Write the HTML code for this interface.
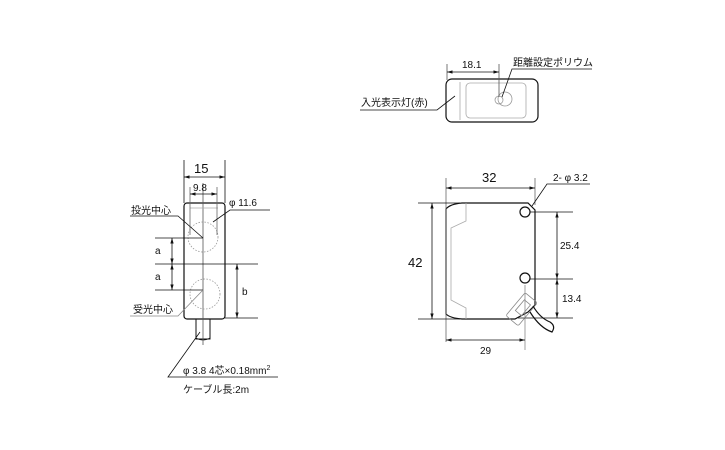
<!DOCTYPE html>
<html><head><meta charset="utf-8"><style>
html,body{margin:0;padding:0;background:#fff}
svg{display:block}
text{font-family:"Liberation Sans","Noto Sans CJK JP",sans-serif;fill:#111}
</style></head><body>
<svg width="725" height="450" viewBox="0 0 725 450" xmlns="http://www.w3.org/2000/svg">
<defs>
<marker id="a" viewBox="0 0 10 10" refX="10" refY="5" markerWidth="7" markerHeight="7" orient="auto-start-reverse"><path d="M0,2 L10,5 L0,8 z" fill="#111"/></marker>
</defs>
<g stroke="#111" stroke-width="0.8" fill="none">
<!-- top view -->
<rect x="446" y="79" width="92" height="43" rx="6" stroke-width="1.2"/>
<line x1="460" y1="82" x2="460" y2="120" stroke="#aaa"/>
<rect x="466" y="83" width="60" height="35" rx="4" stroke="#aaa"/>
<circle cx="499" cy="100" r="4" stroke="#999"/>
<circle cx="505" cy="99" r="7" stroke="#999"/>
<line x1="447" y1="64" x2="447" y2="80" stroke="#555"/>
<line x1="499" y1="64" x2="499" y2="97" stroke="#555"/>
<line x1="447" y1="72" x2="499" y2="72" marker-start="url(#a)" marker-end="url(#a)"/>
<polyline points="592,69 512,69 502,97"/>
<polyline points="360,110 437,110 455,96"/>
<!-- left view -->
<rect x="184" y="203" width="41" height="116" rx="3" stroke-width="1.2"/>
<rect x="196" y="319" width="14" height="20" stroke-width="1"/>
<path d="M196,338 q7,4 14,0" />
<line x1="203" y1="183" x2="203" y2="345" stroke="#555"/>
<line x1="190" y1="208" x2="218" y2="208" stroke="#aaa"/>
<circle cx="203" cy="237" r="15" stroke="#999" stroke-dasharray="1.5,1.5"/>
<circle cx="205" cy="294" r="15" stroke="#999" stroke-dasharray="1.5,1.5"/>
<line x1="184" y1="160" x2="184" y2="203"/>
<line x1="225" y1="160" x2="225" y2="203"/>
<line x1="184" y1="177" x2="225" y2="177" marker-start="url(#a)" marker-end="url(#a)"/>
<line x1="190" y1="187" x2="190" y2="235" stroke="#666"/>
<line x1="217" y1="187" x2="217" y2="235" stroke="#666"/>
<line x1="190" y1="194" x2="217" y2="194" marker-start="url(#a)" marker-end="url(#a)"/>
<line x1="155" y1="238" x2="203" y2="238"/>
<line x1="155" y1="264" x2="258" y2="264"/>
<line x1="155" y1="290" x2="203" y2="290"/>
<line x1="225" y1="318" x2="258" y2="318"/>
<line x1="172" y1="238" x2="172" y2="264" marker-start="url(#a)" marker-end="url(#a)"/>
<line x1="172" y1="264" x2="172" y2="290" marker-start="url(#a)" marker-end="url(#a)"/>
<line x1="237" y1="264" x2="237" y2="318" marker-start="url(#a)" marker-end="url(#a)"/>
<polyline points="130,216 178,216 203,238"/>
<polyline points="130,316 178,316 203,290" stroke="#888"/>
<polyline points="270,210 230,210 213,222"/>
<polyline points="278,377 168,377 200,332"/>
<!-- right view -->
<path d="M446,209 Q450,204 462,203 L528,203 L535,210 L535,305 L528,312 L515,319 L462,319 Q450,318 446,314 Z" stroke-width="1.2"/>
<polyline points="466,203 466,221 451,228 451,300 466,308 466,319" stroke="#aaa"/>
<circle cx="525" cy="212" r="5" stroke-width="1.2"/>
<circle cx="525" cy="278" r="5" stroke-width="1.2"/>
<g transform="rotate(40 521 310)" stroke="#888">
<rect x="513" y="294" width="16" height="30" rx="2"/>
<rect x="517" y="300" width="8" height="14"/>
</g>
<path d="M530,312 Q540,328 552,332 Q556,326 550,322 Q540,318 533,306" stroke-width="1.2"/>
<line x1="446" y1="178" x2="446" y2="342" stroke="#666"/>
<line x1="535" y1="178" x2="535" y2="205" stroke="#666"/>
<line x1="446" y1="188" x2="535" y2="188" marker-start="url(#a)" marker-end="url(#a)"/>
<line x1="418" y1="203" x2="460" y2="203"/>
<line x1="418" y1="319" x2="460" y2="319"/>
<line x1="432" y1="203" x2="432" y2="319" marker-start="url(#a)" marker-end="url(#a)"/>
<line x1="530" y1="212" x2="573" y2="212"/>
<line x1="530" y1="279" x2="573" y2="279"/>
<line x1="518" y1="318" x2="573" y2="318"/>
<line x1="557" y1="212" x2="557" y2="279" marker-start="url(#a)" marker-end="url(#a)"/>
<line x1="557" y1="279" x2="557" y2="318" marker-start="url(#a)" marker-end="url(#a)"/>
<line x1="525" y1="285" x2="525" y2="350" stroke="#888"/>
<line x1="446" y1="340" x2="525" y2="340" marker-start="url(#a)" marker-end="url(#a)"/>
<polyline points="590,184 547,184 532,206"/>
</g>
<g font-size="10">
<text x="462" y="68">18.1</text>
<text x="513" y="66">距離設定ポリウム</text>
<text x="361" y="106">入光表示灯(赤)</text>
<text x="194" y="173" font-size="13">15</text>
<text x="193" y="191">9.8</text>
<text x="229" y="206">φ 11.6</text>
<text x="131" y="214">投光中心</text>
<text x="133" y="313">受光中心</text>
<text x="155" y="254">a</text>
<text x="155" y="280">a</text>
<text x="242" y="295">b</text>
<text x="183" y="374">φ 3.8  4芯×0.18mm<tspan font-size="7" dy="-4">2</tspan></text>
<text x="183" y="393">ケーブル長:2m</text>
<text x="482" y="182" font-size="13">32</text>
<text x="553" y="181">2- φ 3.2</text>
<text x="408" y="267" font-size="13">42</text>
<text x="560" y="249">25.4</text>
<text x="562" y="302">13.4</text>
<text x="480" y="354">29</text>
</g>
</svg>
</body></html>
